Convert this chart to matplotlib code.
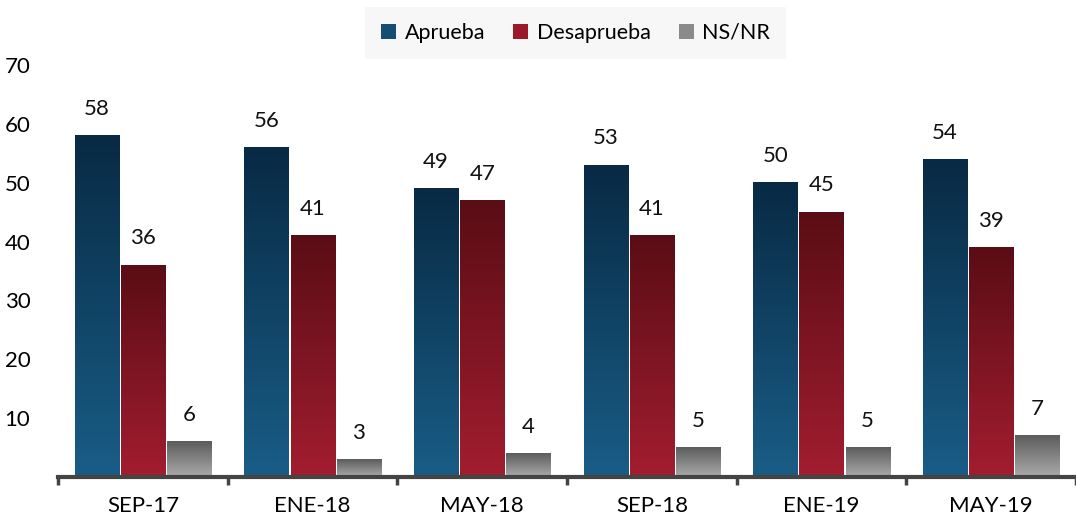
import numpy as np
import matplotlib
matplotlib.use("Agg")
import matplotlib.pyplot as plt
from matplotlib.colors import LinearSegmentedColormap
from matplotlib.patches import Patch

categories = ["SEP-17", "ENE-18", "MAY-18", "SEP-18", "ENE-19", "MAY-19"]
aprueba = [58, 56, 49, 53, 50, 54]
desaprueba = [36, 41, 47, 41, 45, 39]
nsnr = [6, 3, 4, 5, 5, 7]
series_names = ["Aprueba", "Desaprueba", "NS/NR"]
yticks = [10, 20, 30, 40, 50, 60, 70]

plt.rcParams['font.family'] = ['Lato', 'DejaVu Sans']

grads = [("#082a44", "#195d86"), ("#5a0d15", "#a21d2f"), ("#5c5c5c", "#ababab")]
legend_cols = ["#164d72", "#9a1a2a", "#8a8a8a"]

fig = plt.figure(figsize=(10.76, 5.2), dpi=100)
ax = fig.add_axes([0.054, 0.0827, 0.946, 0.7923])
x = np.arange(len(categories))
w = 0.272
gap = 0.012
offs = [-w, 0, w]
grad = np.linspace(0, 1, 256).reshape(-1, 1)

for vals, off, (ctop, cbot) in zip([aprueba, desaprueba, nsnr], offs, grads):
    cmap = LinearSegmentedColormap.from_list("g", [cbot, ctop])
    bars = ax.bar(x + off, vals, width=w, facecolor="none", edgecolor="none", zorder=3)
    for b, v in zip(bars, vals):
        x0, y0 = b.get_x(), b.get_y()
        ax.imshow(grad, extent=[x0 + gap / 2, x0 + b.get_width() - gap / 2, y0, y0 + b.get_height()],
                  origin="lower", aspect="auto", cmap=cmap, zorder=2, interpolation="bicubic")
        ax.annotate(str(v), (b.get_x() + b.get_width() / 2, v), xytext=(0, 12),
                    textcoords="offset points", ha="center", va="bottom", fontsize=16, color="#111111")

ax.set_xlim(-0.5, len(categories) - 0.5)
ax.set_ylim(0, 70)
ax.set_yticks(yticks)
ax.set_yticklabels([str(t) for t in yticks], fontsize=16)
ax.tick_params(axis="y", length=0, pad=20)
ax.set_xticks(x)
ax.set_xticklabels(categories, fontsize=16)
ax.tick_params(axis="x", length=0, pad=14)
ax.set_xticks(np.arange(-0.5, len(categories) + 0.5, 1), minor=True)
ax.tick_params(axis="x", which="minor", length=6, width=2.5, color="#444444", direction="out")
for s in ["top", "right", "left"]:
    ax.spines[s].set_visible(False)
ax.spines["bottom"].set_color("#444444")
ax.spines["bottom"].set_linewidth(3)
ax.spines["bottom"].set_zorder(4)

handles = [Patch(facecolor=c, edgecolor="none") for c in legend_cols]
leg = fig.legend(handles, series_names, loc="center", bbox_to_anchor=(0.535, 0.937), ncol=3,
                 fontsize=15.5, frameon=True, fancybox=False, handlelength=0.7, handleheight=0.7,
                 handletextpad=0.4, columnspacing=1.3, borderpad=0.75)
leg.get_frame().set_facecolor("#f6f6f6")
leg.get_frame().set_edgecolor("none")

fig.savefig("out.png", dpi=100)
